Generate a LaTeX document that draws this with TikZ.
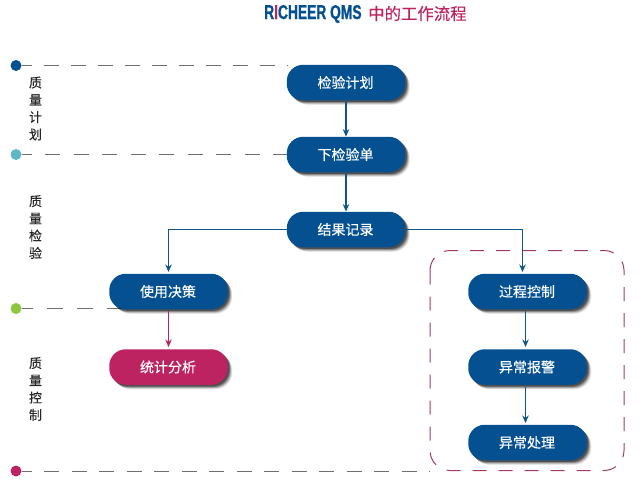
\documentclass[tikz,border=0pt]{standalone}
\usepackage{fontspec}
\usetikzlibrary{arrows.meta,shadows}
\newfontfamily\cjk{Noto Sans CJK SC}
\newfontfamily\cjkb[FakeBold=0.35]{Noto Sans CJK SC}
\newfontfamily\cjkl[FakeBold=0.25]{Noto Sans CJK SC}
\newfontfamily\titlefont[FakeStretch=0.69,FakeBold=0.9]{Liberation Sans Bold}
\newcommand{\lbl}[1]{\raisebox{1pt}{\kern-1pt #1}}
\definecolor{qblue}{HTML}{045091}
\definecolor{qred}{HTML}{BC2360}
\definecolor{qframe}{HTML}{A23A68}
\definecolor{qgrey}{HTML}{6E6E6E}
\definecolor{qteal}{HTML}{5DB7C4}
\definecolor{qgreen}{HTML}{8DC63F}
\definecolor{qlink}{HTML}{0F5585}
\tikzset{
  softshadow/.style={
    drop shadow={shadow xshift=4.5pt,shadow yshift=-4.5pt,opacity=.07,fill=black},
    drop shadow={shadow xshift=4pt,shadow yshift=-4pt,opacity=.10,fill=black},
    drop shadow={shadow xshift=3.4pt,shadow yshift=-3.4pt,opacity=.13,fill=black},
    drop shadow={shadow xshift=2.8pt,shadow yshift=-2.8pt,opacity=.18,fill=black},
    drop shadow={shadow xshift=2.2pt,shadow yshift=-2.2pt,opacity=.25,fill=black},
    drop shadow={shadow xshift=1.5pt,shadow yshift=-1.5pt,opacity=.30,fill=black}},
  stage/.style={softshadow,rectangle,rounded corners=16.5pt,minimum width=118.5pt,minimum height=35.5pt,inner sep=0pt,
    text=white,font=\cjkb\fontsize{14}{16}\selectfont},
  bluebox/.style={stage,fill=qblue},
  redbox/.style={stage,fill=qred},
  flow/.style={draw=qlink,line width=1.1pt,-{Stealth[length=7.5pt,width=6.5pt]}},
  redflow/.style={draw=qred,line width=1.1pt,-{Stealth[length=7.5pt,width=6.5pt]}},
  phase/.style={align=center,text=black!85,font=\cjkl\fontsize{13}{17.3}\selectfont,inner sep=0pt},
  guide/.style={draw=qgrey,line width=.8pt,dash phase=5pt},
  marker/.style={circle,minimum size=11pt,inner sep=0pt},
}
\begin{document}
\begin{tikzpicture}[x=1pt,y=-1pt]
\useasboundingbox (0,0) rectangle (644,487);
% guide ends
\coordinate (g1) at (287,65.5);
\coordinate (g2) at (287,154.5);
\coordinate (g3) at (125,308.5);
\coordinate (g4) at (430,471);
% markers
\node[marker,fill=qblue] (m1) at (16,65.5) {};
\node[marker,fill=qteal] (m2) at (16,154.5) {};
\node[marker,fill=qgreen] (m3) at (16,308.5) {};
\node[marker,fill=qred] (m4) at (16,471) {};
\draw[guide,dash pattern=on 15pt off 12pt] (m1.east) -- (g1);
\draw[guide,dash pattern=on 15pt off 13.5pt] (m2.east) -- (g2);
\draw[guide,dash pattern=on 16pt off 14pt] (m3.east) -- (g3);
\draw[guide,dash pattern=on 15pt off 12.5pt] (m4.east) -- (g4);
% boxes
\node[bluebox] (plan) at (346,82.5) {\lbl{检验计划}};
\node[bluebox] (order) at (346,154.5) {\lbl{下检验单}};
\node[bluebox] (result) at (346,229.5) {\lbl{结果记录}};
\node[bluebox] (decide) at (168.5,291.5) {\lbl{使用决策}};
\node[redbox] (stats) at (168.5,367) {\lbl{统计分析}};
\node[bluebox] (control) at (527.5,291.5) {\lbl{过程控制}};
\node[bluebox] (alarm) at (527.5,367) {\lbl{异常报警}};
\node[bluebox] (handle) at (527.5,442.5) {\lbl{异常处理}};
% frame
\draw[qframe,line width=1pt,dash pattern=on 14pt off 12pt,rounded corners=20pt] (430,250.5) rectangle (624,470.5);
% connectors
\coordinate (planout) at (346,102);
\coordinate (orderout) at (346,174);
\coordinate (ctlin) at (522.5,272);
\coordinate (ctlout) at (525.5,311);
\coordinate (alarmin) at (525.5,347);
\coordinate (alarmout) at (525.5,387);
\coordinate (handlein) at (525.5,423);
\coordinate (decin) at (168.5,272);
\coordinate (decout) at (168.5,311);
\coordinate (statin) at (168.5,347);
\draw[flow] (planout) -- (order.north);
\draw[flow] (orderout) -- (result.north);
\draw[flow] (result.west) -| (decin);
\draw[flow] (result.east) -| (ctlin);
\draw[redflow] (decout) -- (statin);
\draw[flow] (ctlout) -- (alarmin);
\draw[flow] (alarmout) -- (handlein);
% labels
\node[phase] (l1) at (35.5,108.5) {质\\量\\计\\划};
\node[phase] (l2) at (35.5,227) {质\\量\\检\\验};
\node[phase] (l3) at (35.5,389) {质\\量\\控\\制};
% title
\node[anchor=west,inner sep=0pt,text=qblue,font=\titlefont\fontsize{20}{22}\selectfont] (t1) at (264,14) {R\textcolor{qred}{I}CHEER QMS};
\node[anchor=west,inner sep=0pt,text=qred,font=\cjkl\fontsize{16.4}{18}\selectfont] (t2) at (368,13.5) {中的工作流程};
\end{tikzpicture}
\end{document}
